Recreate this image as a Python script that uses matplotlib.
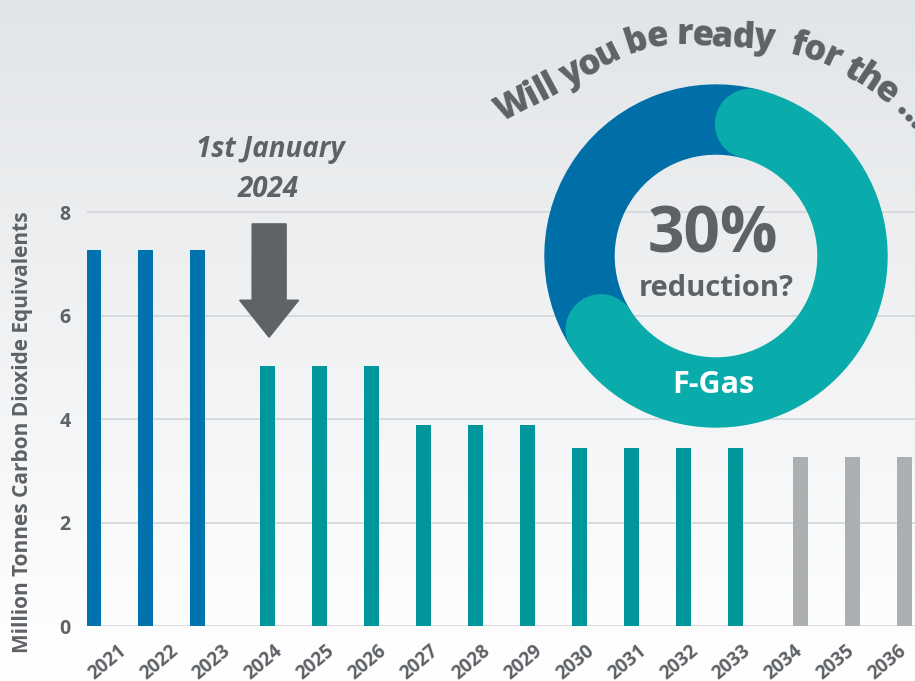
import numpy as np
import matplotlib
matplotlib.use("Agg")
import matplotlib.pyplot as plt
from matplotlib.patches import Wedge, Circle, FancyArrow
from matplotlib.textpath import TextToPath
from matplotlib.font_manager import FontProperties

# data
years = [str(y) for y in range(2021, 2037)]
values = [7.27, 7.27, 7.27,
          5.03, 5.03, 5.03,
          3.89, 3.89, 3.89,
          3.43, 3.43, 3.43, 3.43,
          3.26, 3.26, 3.26]
groups = [0, 0, 0] + [1] * 10 + [2] * 3      # 0 = past, 1 = phase-down, 2 = later
group_colors = ["#0072ad", "#00969a", "#abafb2"]
group_shift = [-0.56, -0.22, 0.02]
reduction_share = 30                           # donut centre value in %
title_text = "Will you be ready  for the ..."

GREY = "#5e6266"
FONT = "Open Sans"
plt.rcParams["font.family"] = [FONT, "DejaVu Sans"]

W, H = 915, 681
fig = plt.figure(figsize=(W / 100, H / 100), dpi=100)

# background gradient
bg = fig.add_axes([0, 0, 1, 1], zorder=-10)
top = np.array([0xe2, 0xe5, 0xe8]) / 255
bot = np.array([0xfe, 0xfe, 0xfe]) / 255
t = np.clip(np.linspace(0, 1, 200) / 0.95, 0, 1)[:, None]
grad = (top * (1 - t) + bot * t)[:, None, :]
bg.imshow(grad, aspect="auto", extent=[0, 1, 0, 1])
bg.axis("off")

# bar chart
ax = fig.add_axes([87 / W, 1 - 626 / H, 828 / W, 626 / H])
ax.set_facecolor("none")
idx = np.arange(len(years))
xpos = idx + np.array([group_shift[g] for g in groups])
ax.bar(xpos, values, width=0.29, color=[group_colors[g] for g in groups], zorder=3)
ax.set_xlim(-0.692, 15.23)
ax.set_ylim(0, 626 / 51.75)
ax.set_yticks([0, 2, 4, 6, 8])
ax.set_xticks(idx - 0.11)
ax.set_xticklabels(years, rotation=40, ha="right", va="top", rotation_mode="anchor",
                   fontsize=13.5, fontweight="bold", color=GREY)
for lab in ax.get_yticklabels():
    lab.set_fontsize(14)
    lab.set_fontweight("bold")
    lab.set_color(GREY)
ax.tick_params(axis="both", length=0)
ax.tick_params(axis="y", pad=12)
ax.tick_params(axis="x", pad=11)
ax.grid(axis="y", color="#d3d6d9", linewidth=1.2, zorder=0)
for s in ax.spines.values():
    s.set_visible(False)
ax.set_ylabel("Million Tonnes Carbon Dioxide Equivalents", fontsize=15,
              fontweight="bold", color=GREY)
ax.yaxis.set_label_coords(-0.065, 0.31)

# arrow pointing at the first phase-down year
tip = values[3] + 0.55
ax.add_patch(FancyArrow(xpos[3] + 0.03, 7.77, 0, tip - 7.77, width=0.654,
                        head_width=1.135, head_length=0.715,
                        length_includes_head=True, color="#5f6367", zorder=4))
ax.text(2.83, 9.2, "1st January", ha="center", va="center", fontsize=20,
        fontweight="bold", fontstyle="italic", color=GREY)
ax.text(2.8, 8.43, "2024", ha="center", va="center", fontsize=20,
        fontweight="bold", fontstyle="italic", color=GREY)

# overlay in pixel units (y up)
ov = fig.add_axes([0, 0, 1, 1])
ov.set_xlim(0, W)
ov.set_ylim(0, H)
ov.axis("off")

cx, cy, R, r = 716, H - 256, 171, 102
ring = R - r
mid = (R + r) / 2
d = np.degrees((ring / 2) / mid)
blue_end = 90 + reduction_share * 3.6
ov.add_patch(Wedge((cx, cy), R, 90 - d, blue_end + d, width=ring, color="#006fa8"))
teal = "#0aabab"
ov.add_patch(Wedge((cx, cy), R, blue_end + d - 360, 90 - d, width=ring, color=teal))
for a in [90 - d, blue_end + d]:
    ar = np.radians(a)
    ov.add_patch(Circle((cx + mid * np.cos(ar), cy + mid * np.sin(ar)), ring / 2, color=teal))

ov.text(cx - 3, H - 236, f"{reduction_share}%", ha="center", va="center",
        fontsize=46, fontweight="bold", color=GREY)
ov.text(cx, H - 289, "reduction?", ha="center", va="center",
        fontsize=21, fontweight="bold", color=GREY)
ov.text(cx - 3, H - 385, "F-Gas", ha="center", va="center",
        fontsize=22, fontweight="bold", color="white")

# curved title along a baseline path (pixels, y down)
path_x = np.array([503, 562, 620, 650, 672, 700, 767, 797, 827, 857, 893, 914])
path_y = np.array([121, 90, 58, 47, 44, 45, 49, 55, 66, 83, 108, 131])
dense = np.linspace(0, len(path_x) - 1, 2000)
px = np.interp(dense, np.arange(len(path_x)), path_x)
py = H - np.interp(dense, np.arange(len(path_y)), path_y)
seg = np.hypot(np.diff(px), np.diff(py))
arclen = np.concatenate([[0], np.cumsum(seg)])

fp = FontProperties(family=FONT, weight="heavy", size=25)
ttp = TextToPath()


def width_px(s):
    if not s:
        return 0.0
    w, _, _ = ttp.get_text_width_height_descent(s, fp, ismath=False)
    return w * 100 / 72


def point_at(s):
    return np.interp(s, arclen, px), np.interp(s, arclen, py)


track = arclen[-1] / width_px(title_text)
for i, ch in enumerate(title_text):
    if ch == " ":
        continue
    s_c = (width_px(title_text[:i]) + width_px(ch) / 2) * track
    x0, y0 = point_at(s_c)
    xa, ya = point_at(max(s_c - 18, 0))
    xb, yb = point_at(min(s_c + 18, arclen[-1]))
    ang = np.degrees(np.arctan2(yb - ya, xb - xa))
    ov.text(x0, y0, ch, rotation=ang, rotation_mode="anchor",
            ha="center", va="baseline", fontproperties=fp, color=GREY)

fig.savefig("out.png", dpi=100)
